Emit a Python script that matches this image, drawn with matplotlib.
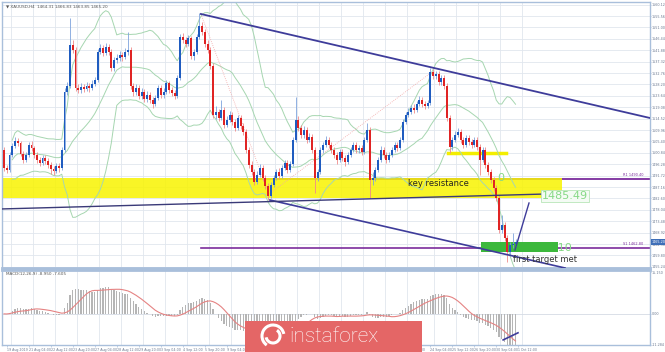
import matplotlib
matplotlib.use('Agg')
import matplotlib.pyplot as plt
import numpy as np
import pandas as pd
from matplotlib.patches import Rectangle, Arc

# ---------------- data (XAUUSD H4) ----------------
first_open = 1502.0
closes = [1494.8, 1494.0, 1500.0, 1503.6, 1505.6, 1504.8, 1500.4, 1498.0, 1500.0, 1504.0,
          1502.8, 1500.0, 1498.0, 1496.8, 1498.8, 1497.6, 1496.0, 1494.4, 1493.6, 1495.6,
          1494.8, 1502.0, 1525.2, 1527.6, 1544.0, 1542.0, 1526.8, 1526.0, 1527.2, 1526.4,
          1527.6, 1526.8, 1528.4, 1530.0, 1541.2, 1542.8, 1540.8, 1543.2, 1541.2, 1534.8,
          1538.0, 1538.8, 1540.0, 1539.2, 1541.2, 1542.0, 1527.6, 1525.2, 1526.8, 1523.6,
          1525.2, 1522.4, 1524.0, 1522.0, 1520.4, 1522.8, 1526.8, 1524.0, 1525.2, 1528.8,
          1526.0, 1524.8, 1523.6, 1530.8, 1547.2, 1546.0, 1544.4, 1546.8, 1539.6, 1541.2,
          1547.2, 1551.6, 1549.2, 1544.4, 1542.0, 1535.6, 1516.0, 1517.2, 1514.8, 1518.0,
          1512.0, 1514.0, 1516.0, 1513.2, 1510.8, 1514.8, 1511.6, 1509.2, 1502.0, 1496.0,
          1493.2, 1489.2, 1492.0, 1494.8, 1490.8, 1487.6, 1483.6, 1488.0, 1490.8, 1493.2,
          1491.6, 1494.8, 1496.8, 1494.0, 1496.4, 1506.0, 1514.0, 1510.8, 1508.0, 1510.0,
          1506.0, 1507.2, 1502.0, 1490.8, 1493.2, 1502.0, 1504.0, 1506.0, 1504.0, 1502.0,
          1500.0, 1498.0, 1501.2, 1498.8, 1497.2, 1500.0, 1502.0, 1504.0, 1502.0, 1502.8,
          1501.2, 1506.0, 1510.0, 1490.0, 1490.8, 1494.0, 1498.0, 1502.0, 1500.0, 1498.0,
          1500.0, 1502.0, 1504.0, 1502.8, 1506.0, 1513.2, 1516.0, 1517.2, 1518.8, 1518.0,
          1520.4, 1522.0, 1520.4, 1519.6, 1520.8, 1533.2, 1531.6, 1532.4, 1529.2, 1530.8,
          1527.6, 1514.8, 1503.2, 1506.0, 1508.0, 1509.2, 1506.0, 1504.0, 1506.8, 1505.2,
          1504.0, 1506.0, 1503.2, 1498.0, 1502.0, 1496.0, 1493.2, 1490.0, 1486.8, 1482.8,
          1470.0, 1472.0, 1466.8, 1461.2, 1464.0, 1464.4, 1465.2]
highs = [1503.2, 1496.0, 1501.2, 1504.8, 1507.2, 1506.8, 1505.6, 1501.6, 1501.2, 1505.2,
         1505.6, 1503.6, 1501.2, 1499.2, 1500.0, 1500.0, 1498.8, 1497.2, 1495.6, 1496.8,
         1496.8, 1503.2, 1526.8, 1529.2, 1554.8, 1546.0, 1543.2, 1528.4, 1528.8, 1528.4,
         1529.2, 1528.8, 1530.0, 1531.2, 1542.4, 1544.4, 1544.0, 1544.8, 1544.4, 1542.4,
         1539.2, 1540.4, 1541.6, 1541.2, 1542.8, 1549.2, 1543.2, 1528.8, 1528.4, 1528.0,
         1526.8, 1526.4, 1525.6, 1525.2, 1523.2, 1524.0, 1528.0, 1528.0, 1526.8, 1530.0,
         1529.6, 1527.2, 1526.0, 1532.0, 1548.4, 1548.8, 1547.2, 1548.0, 1547.6, 1542.4,
         1548.4, 1556.8, 1553.2, 1550.4, 1546.0, 1543.2, 1536.8, 1519.6, 1518.4, 1522.0,
         1519.2, 1515.6, 1517.6, 1517.2, 1514.4, 1516.0, 1516.0, 1512.8, 1510.4, 1503.2,
         1497.6, 1494.4, 1493.6, 1496.4, 1496.0, 1492.0, 1488.8, 1489.2, 1492.0, 1494.4,
         1494.8, 1496.0, 1498.0, 1498.0, 1497.6, 1507.2, 1523.2, 1515.6, 1512.0, 1511.6,
         1511.2, 1508.8, 1508.4, 1503.2, 1494.4, 1503.2, 1505.2, 1507.6, 1507.2, 1505.2,
         1503.2, 1501.2, 1502.4, 1502.4, 1500.0, 1501.2, 1503.2, 1505.2, 1505.2, 1504.0,
         1504.0, 1507.2, 1512.8, 1511.2, 1493.2, 1495.2, 1499.2, 1503.6, 1503.2, 1501.2,
         1501.2, 1503.2, 1505.2, 1505.2, 1507.2, 1514.4, 1517.2, 1518.8, 1520.0, 1520.4,
         1521.6, 1523.6, 1523.2, 1521.6, 1522.0, 1534.8, 1534.4, 1533.6, 1533.6, 1532.0,
         1532.0, 1528.8, 1516.0, 1507.2, 1509.6, 1510.8, 1510.4, 1507.2, 1508.0, 1508.0,
         1506.4, 1507.2, 1507.2, 1504.4, 1503.2, 1503.2, 1497.2, 1494.4, 1491.2, 1488.0,
         1484.0, 1476.0, 1473.2, 1468.0, 1465.2, 1468.8, 1466.4]
lows = [1493.6, 1492.8, 1493.2, 1499.2, 1502.8, 1503.6, 1499.6, 1496.8, 1497.2, 1499.2,
        1501.6, 1498.8, 1496.8, 1495.6, 1496.0, 1496.4, 1494.8, 1492.4, 1492.0, 1492.8,
        1493.2, 1494.0, 1501.2, 1524.0, 1526.8, 1540.8, 1525.6, 1524.8, 1524.8, 1525.2,
        1525.6, 1525.2, 1526.0, 1527.6, 1529.2, 1540.4, 1539.6, 1540.0, 1540.0, 1533.6,
        1533.6, 1536.8, 1537.6, 1537.6, 1538.4, 1540.0, 1526.4, 1523.6, 1524.0, 1522.4,
        1522.4, 1521.2, 1521.2, 1520.8, 1518.8, 1519.6, 1522.0, 1522.8, 1522.8, 1524.4,
        1524.8, 1523.6, 1522.4, 1522.8, 1530.0, 1544.8, 1543.2, 1543.6, 1538.4, 1538.0,
        1540.4, 1546.4, 1548.0, 1543.2, 1540.8, 1534.4, 1514.8, 1514.4, 1513.6, 1514.0,
        1510.8, 1511.2, 1513.2, 1512.0, 1509.6, 1510.0, 1510.4, 1508.0, 1500.8, 1494.8,
        1492.0, 1488.0, 1488.4, 1491.2, 1489.6, 1486.4, 1482.0, 1482.8, 1487.2, 1490.0,
        1490.4, 1490.8, 1494.0, 1492.8, 1493.2, 1495.6, 1505.2, 1509.6, 1506.8, 1506.8,
        1504.8, 1505.2, 1500.8, 1484.8, 1489.6, 1492.4, 1500.8, 1503.2, 1502.8, 1500.8,
        1498.8, 1496.4, 1497.2, 1497.6, 1495.6, 1496.4, 1499.2, 1501.2, 1500.8, 1500.8,
        1500.0, 1500.4, 1505.2, 1482.8, 1488.0, 1489.6, 1493.2, 1497.2, 1498.8, 1496.8,
        1497.2, 1499.2, 1501.2, 1501.6, 1502.0, 1505.2, 1512.4, 1515.2, 1516.4, 1516.8,
        1517.2, 1519.6, 1519.2, 1518.4, 1518.8, 1520.0, 1530.4, 1530.4, 1528.0, 1528.0,
        1526.4, 1513.6, 1500.8, 1502.0, 1505.2, 1507.2, 1504.8, 1502.8, 1503.2, 1504.0,
        1502.8, 1503.2, 1502.0, 1492.0, 1497.2, 1494.8, 1492.0, 1488.8, 1485.6, 1481.6,
        1468.8, 1468.8, 1465.6, 1457.2, 1460.0, 1462.8, 1463.6]
opens = [first_open] + closes[:-1]

price_ticks = [1560.12, 1555.56, 1551.00, 1546.44, 1541.88, 1537.32, 1532.76, 1528.20,
               1523.64, 1519.08, 1514.52, 1509.96, 1505.40, 1500.84, 1496.28, 1491.72,
               1487.16, 1482.60, 1478.04, 1473.48, 1468.92, 1464.36, 1459.80, 1455.24]
macd_ticks = [15.150, 0.0, -11.284]
macd_tick_labels = ['15.150', '0.00', '-11.284']

date_pos = [1, 9, 17, 25, 33, 41, 49, 57, 65, 73, 81, 89, 97, 105, 113, 121, 129, 137, 145,
            155, 163, 171, 179, 187]
date_labels = ['19 Aug 2019', '21 Aug 04:00', '22 Aug 12:00', '23 Aug 20:00', '27 Aug 04:00',
               '28 Aug 12:00', '29 Aug 20:00', '3 Sep 04:00', '4 Sep 12:00', '5 Sep 20:00',
               '9 Sep 04:00', '10 Sep 12:00', '11 Sep 20:00', '13 Sep 04:00', '16 Sep 12:00',
               '17 Sep 20:00', '19 Sep 04:00', '20 Sep 12:00', '23 Sep 20:00',
               '24 Sep 04:00', '25 Sep 12:00', '26 Sep 20:00', '30 Sep 04:00', '1 Oct 12:00']

# drawn objects (index, price)
upper_trend = ([71.6, 234.9], [1556.4, 1514.8])
lower_trend = ([96.7, 204.0], [1482.0, 1454.8])
rising_line = ([-1.45, 210.2], [1478.4, 1484.8])
zigzag = ([71.6, 96.4, 155.6], [1556.4, 1484.4, 1533.2])
key_zone = (-1.0, 202.9, 1482.8, 1490.8)
r_level, s_level = 1490.4, 1462.8
small_level = (161.5, 182.5, 1500.8)
target_box = (173.5, 201.5, 1461.2, 1465.2)
arrow_line = ([185.8, 190.9], [1462.0, 1480.8])
macd_div = ([181.5, 186.9], [-9.5, -6.9])

# ---------------- indicators ----------------
s = pd.Series(closes)
mid = s.rolling(20, min_periods=4).mean()
sd = s.rolling(20, min_periods=4).std(ddof=0)
bb_up, bb_lo = mid + 2 * sd, mid - 2 * sd
macd = s.ewm(span=12, adjust=False).mean() - s.ewm(span=26, adjust=False).mean()
signal = macd.rolling(9, min_periods=1).mean()

# ---------------- figure ----------------
W, H = 665, 352
fig = plt.figure(figsize=(W / 100, H / 100), dpi=100)
fig.patch.set_facecolor('white')
ax = fig.add_axes([2 / W, 1 - 268 / H, 648 / W, 266 / H])
axm = fig.add_axes([2 / W, 1 - 345 / H, 648 / W, 75 / H])

frame = '#a9bfdb'
grid_c = '#e1e6ee'
x = np.arange(len(closes))
xlim = (-0.73, 234.9)

for a in (ax, axm):
    a.set_xlim(*xlim)
    for sp in a.spines.values():
        sp.set_color(frame)
        sp.set_linewidth(1.0)
    a.yaxis.tick_right()
    a.tick_params(axis='y', labelsize=2.4, colors=frame, length=1.0, pad=0.3, width=0.5,
                  labelcolor='#6a7890')
    for p in date_pos:
        a.axvline(p + 1.5, color=grid_c, lw=0.6, zorder=0)
ax.spines['bottom'].set_linewidth(2.0)
axm.spines['top'].set_linewidth(2.0)

# main panel
ax.set_ylim(1454.8, 1561.2)
ax.set_yticks(price_ticks)
ax.set_yticklabels(['%.2f' % v for v in price_ticks])
ax.set_xticks([])
for v in price_ticks:
    ax.axhline(v, color=grid_c, lw=0.6, zorder=0)

# key resistance zone + levels
ax.plot([71.6, xlim[1]], [r_level, r_level], color='#7b2c9c', lw=1.3, zorder=1)
ax.plot([71.6, xlim[1]], [s_level, s_level], color='#7b2c9c', lw=1.2, zorder=1)
ax.add_patch(Rectangle((key_zone[0], key_zone[2]), key_zone[1] - key_zone[0],
                       key_zone[3] - key_zone[2], facecolor='#f8f400', edgecolor='none',
                       alpha=0.85, zorder=1.5))
ax.plot([small_level[0], small_level[1]], [small_level[2]] * 2, color='#f3ee00', lw=2.5, zorder=1.6)

# Bollinger bands
for band in (bb_up, mid, bb_lo):
    ax.plot(x, band, color='#a6d6b0', lw=0.7, zorder=2)

# zigzag dotted
ax.plot(zigzag[0], zigzag[1], color='#f3a8a8', lw=0.6, ls=(0, (1, 1.5)), zorder=2)

# text hidden partly behind target box
ax.text(190.2, 1462.8, '1465.10', color='#86d986', fontsize=8, va='center', ha='left', zorder=2.2)
ax.add_patch(Rectangle((target_box[0], target_box[2]), target_box[1] - target_box[0],
                       target_box[3] - target_box[2], facecolor='#3cb83c', edgecolor='none',
                       zorder=2.5))

# candles
up = np.array(closes) >= np.array(opens)
colors = np.where(up, '#1f5cc0', '#e02424')
wick_colors = np.where(up, '#7fa4dd', '#f08a8a')
ax.vlines(x, lows, highs, colors=wick_colors, lw=0.6, zorder=3)
bottoms = np.minimum(opens, closes)
heights = np.maximum(np.abs(np.array(closes) - np.array(opens)), 0.35)
ax.bar(x, heights, bottom=bottoms, width=0.72, color=colors, edgecolor='none', zorder=3.2)

# trend lines
ax.plot(*upper_trend, color='#3e3c9a', lw=1.3, zorder=4)
ax.plot(*lower_trend, color='#3e3c9a', lw=1.2, zorder=4)
ax.plot(*rising_line, color='#3a3a78', lw=1.0, zorder=4)
ax.plot(*arrow_line, color='#3e3c9a', lw=1.0, zorder=4)

# texts
ax.text(146.9, 1488.4, 'key resistance', fontsize=6, color='#222222', va='center', ha='left', zorder=5)
ax.text(195.6, 1483.6, '1485.49', fontsize=8, color='#86d986', va='center', ha='left', zorder=5,
        bbox=dict(facecolor='#f4fbf4', edgecolor='#b8e6b8', pad=0.6, lw=0.6))
ax.text(179.3, 1490.8, '0', fontsize=8, color='#86d986', va='center', ha='left', zorder=5)
ax.text(185.1, 1458.2, 'first target met', fontsize=6, color='#333333', va='center', ha='left', zorder=5)
ax.text(232.5, 1491.3, 'R1 1490.40', fontsize=2.5, color='#7b2c9c', va='bottom', ha='right', zorder=5)
ax.text(232.5, 1463.7, 'S1 1462.80', fontsize=2.5, color='#7b2c9c', va='bottom', ha='right', zorder=5)
ax.text(0.8, 1559.4, '\u25BC XAUUSD,H4  1464.31 1466.83 1463.85 1465.20', fontsize=3.0,
        color='#555555', va='center', ha='left', zorder=5)
# current price marker on the axis
ax.text(1.002, (closes[-1] - 1454.8) / (1561.2 - 1454.8), '%.2f' % closes[-1],
        transform=ax.transAxes, fontsize=2.4, color='white', va='center', ha='left',
        bbox=dict(facecolor='#3f6fb8', edgecolor='none', pad=0.4), zorder=6, clip_on=False)

# MACD panel
axm.set_ylim(-11.35, 16.0)
axm.set_yticks(macd_ticks)
axm.set_yticklabels(macd_tick_labels)
axm.axhline(0, color='#d5dbe4', lw=0.6, zorder=0)
axm.bar(x, macd, width=0.45, color='#b5b5b5', edgecolor='none', zorder=2)
axm.plot(x, signal, color='#e58383', lw=0.8, zorder=3)
axm.plot(*macd_div, color='#3e3c9a', lw=1.2, zorder=4)
axm.set_xticks(date_pos)
axm.set_xticklabels(date_labels, fontsize=2.3, color='#6a7890', ha='left')
axm.tick_params(axis='x', length=1.5, pad=0.5, colors=frame, width=0.5, labelcolor='#6a7890')
axm.text(0.8, 14.6, 'MACD(12,26,9) -8.950 -7.605', fontsize=3.0, color='#555555',
         va='center', ha='left', zorder=5)

# watermark banner
fig.add_artist(Rectangle((245 / W, 0), 177 / W, 31 / H, transform=fig.transFigure,
                         facecolor='#e46666', edgecolor='none', zorder=20))
fig.text(289 / W, 1 - 337 / H, 'instaforex', color='white', fontsize=15,
         family='Roboto', fontweight='light', va='center', ha='left', zorder=21)
cx, cy = 273 / W, 1 - 336 / H
for r, t1, t2 in ((11, 20, 250), (7, 200, 430)):
    fig.add_artist(Arc((cx, cy), 2 * r / W, 2 * r / H, theta1=t1, theta2=t2,
                       transform=fig.transFigure, color='white', lw=2.2, zorder=21))

fig.savefig('out.png', dpi=100, facecolor='white')
